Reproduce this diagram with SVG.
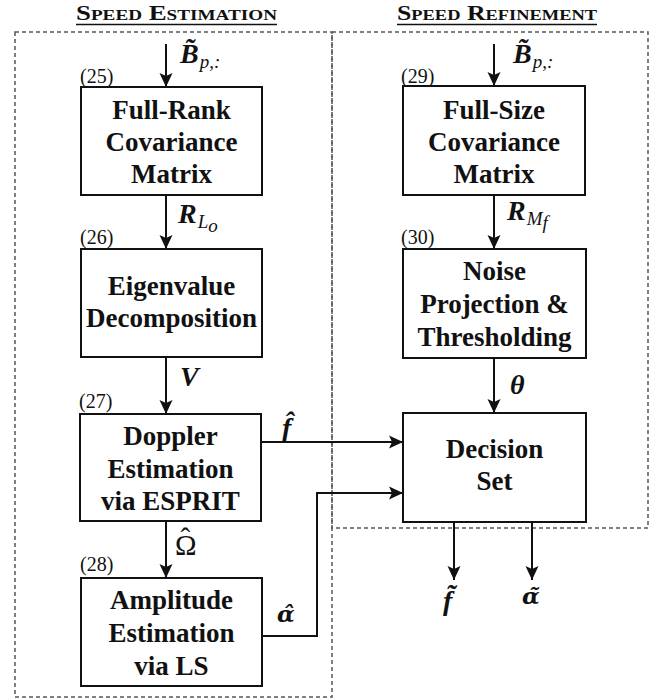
<svg xmlns="http://www.w3.org/2000/svg" width="665" height="699" viewBox="0 0 665 699">
  <style>
    .frame { fill: none; stroke: #555; stroke-width: 1.5; stroke-dasharray: 4 3; }
    .box { fill: #fff; stroke: #111; stroke-width: 2; }
    .lbl { font-family: "Liberation Serif", "Times New Roman", serif; font-weight: bold; font-size: 27px; fill: #111; text-anchor: middle; }
    .eq { font-family: "Liberation Serif", "Times New Roman", serif; font-size: 20px; fill: #111; }
    .title { font-family: "Liberation Serif", "Times New Roman", serif; font-weight: bold; font-size: 21px; font-variant: small-caps; fill: #111; text-anchor: middle; }
    .math { font-family: "Liberation Serif", "Times New Roman", serif; font-style: italic; font-weight: bold; font-size: 28px; fill: #111; }
    .mathr { font-family: "Liberation Serif", "Times New Roman", serif; font-size: 29px; fill: #111; }
    .greek { font-family: "DejaVu Serif", serif; font-style: italic; font-weight: bold; font-size: 23px; fill: #111; }
    .sub { font-family: "Liberation Serif", "Times New Roman", serif; font-style: italic; font-weight: normal; font-size: 19px; fill: #111; }
    .wire { fill: none; stroke: #111; stroke-width: 2; }
  </style>
  <defs>
    <marker id="arrow" markerUnits="userSpaceOnUse" markerWidth="14" markerHeight="14" refX="14" refY="7" orient="auto">
      <path d="M0,0.5 L14,7 L0,13.5 L3,7 z" fill="#111"/>
    </marker>
  </defs>

  <!-- section frames -->
  <g id="frames">
    <rect class="frame" x="15" y="32" width="317" height="665"/>
    <rect class="frame" x="332" y="32" width="316" height="496"/>
  </g>

  <!-- section titles -->
  <g id="titles">
    <text class="title" x="176.5" y="20" textLength="201" lengthAdjust="spacingAndGlyphs">Speed Estimation</text>
    <line x1="76" y1="24.5" x2="277" y2="24.5" stroke="#111" stroke-width="1.5"/>
    <text class="title" x="497" y="20" textLength="200" lengthAdjust="spacingAndGlyphs">Speed Refinement</text>
    <line x1="397" y1="24.5" x2="597" y2="24.5" stroke="#111" stroke-width="1.5"/>
  </g>

  <!-- connectors -->
  <g id="connectors">
    <path class="wire" d="M166,44 V87" marker-end="url(#arrow)"/>
    <path class="wire" d="M166,195 V249" marker-end="url(#arrow)"/>
    <path class="wire" d="M166,357 V414" marker-end="url(#arrow)"/>
    <path class="wire" d="M166,521 V578" marker-end="url(#arrow)"/>
    <path class="wire" d="M494,44 V86" marker-end="url(#arrow)"/>
    <path class="wire" d="M494,195 V249" marker-end="url(#arrow)"/>
    <path class="wire" d="M494,358 V413" marker-end="url(#arrow)"/>
    <path class="wire" d="M261,442 H403" marker-end="url(#arrow)"/>
    <path class="wire" d="M262,636 H317 V493 H403" marker-end="url(#arrow)"/>
    <path class="wire" d="M454,522 V580" marker-end="url(#arrow)"/>
    <path class="wire" d="M532,522 V580" marker-end="url(#arrow)"/>

    <!-- signal labels -->
    <text class="math" x="180" y="63">B̃<tspan class="sub" font-weight="bold" dx="1" dy="5">p,:</tspan></text>
    <text class="math" x="513" y="63">B̃<tspan class="sub" font-weight="bold" dx="1" dy="5">p,:</tspan></text>

    <text class="math" x="178" y="223">R<tspan class="sub" dx="1" dy="5">L</tspan><tspan class="sub" font-size="14" dy="4">o</tspan></text>
    <text class="math" x="507" y="220">R<tspan class="sub" dx="1" dy="5">M</tspan><tspan class="sub" font-size="14" dy="4">f</tspan></text>

    <text class="math" x="180" y="386">V</text>

    <text class="math" x="510" y="394">θ</text>

    <text class="math" x="282" y="437">f̂</text>

    <text class="mathr" x="175" y="555">Ω<tspan dx="-16" dy="-7">ˆ</tspan></text>

    <text class="greek" x="277" y="622">α̂</text>

    <text class="math" x="443" y="610">f̃</text>

    <text class="greek" x="522" y="604">α̃</text>
  </g>

  <!-- speed estimation column -->
  <g id="n25">
    <text class="eq" x="80" y="83">(25)</text>
    <rect class="box" x="81" y="87" width="181" height="108"/>
    <text class="lbl" x="171.5" y="119">Full-Rank</text>
    <text class="lbl" x="171.5" y="151">Covariance</text>
    <text class="lbl" x="171.5" y="183">Matrix</text>
  </g>
  <g id="n26">
    <text class="eq" x="80" y="244">(26)</text>
    <rect class="box" x="81" y="249" width="181" height="108"/>
    <text class="lbl" x="171.5" y="295">Eigenvalue</text>
    <text class="lbl" x="171.5" y="327">Decomposition</text>
  </g>
  <g id="n27">
    <text class="eq" x="79" y="408">(27)</text>
    <rect class="box" x="80" y="414" width="181" height="107"/>
    <text class="lbl" x="170.5" y="445">Doppler</text>
    <text class="lbl" x="170.5" y="478">Estimation</text>
    <text class="lbl" x="170.5" y="510">via ESPRIT</text>
  </g>
  <g id="n28">
    <text class="eq" x="80" y="571">(28)</text>
    <rect class="box" x="81" y="578" width="181" height="108"/>
    <text class="lbl" x="171.5" y="609">Amplitude</text>
    <text class="lbl" x="171.5" y="642">Estimation</text>
    <text class="lbl" x="171.5" y="675">via LS</text>
  </g>

  <!-- speed refinement column -->
  <g id="n29">
    <text class="eq" x="401" y="83">(29)</text>
    <rect class="box" x="403" y="86" width="182" height="109"/>
    <text class="lbl" x="494" y="119">Full-Size</text>
    <text class="lbl" x="494" y="151">Covariance</text>
    <text class="lbl" x="494" y="183">Matrix</text>
  </g>
  <g id="n30">
    <text class="eq" x="401" y="244">(30)</text>
    <rect class="box" x="403" y="249" width="183" height="109"/>
    <text class="lbl" x="494.5" y="280">Noise</text>
    <text class="lbl" x="494.5" y="313">Projection &amp;</text>
    <text class="lbl" x="494.5" y="346">Thresholding</text>
  </g>
  <g id="decision">
    <rect class="box" x="403" y="413" width="183" height="109"/>
    <text class="lbl" x="494.5" y="458">Decision</text>
    <text class="lbl" x="494.5" y="490">Set</text>
  </g>
</svg>
